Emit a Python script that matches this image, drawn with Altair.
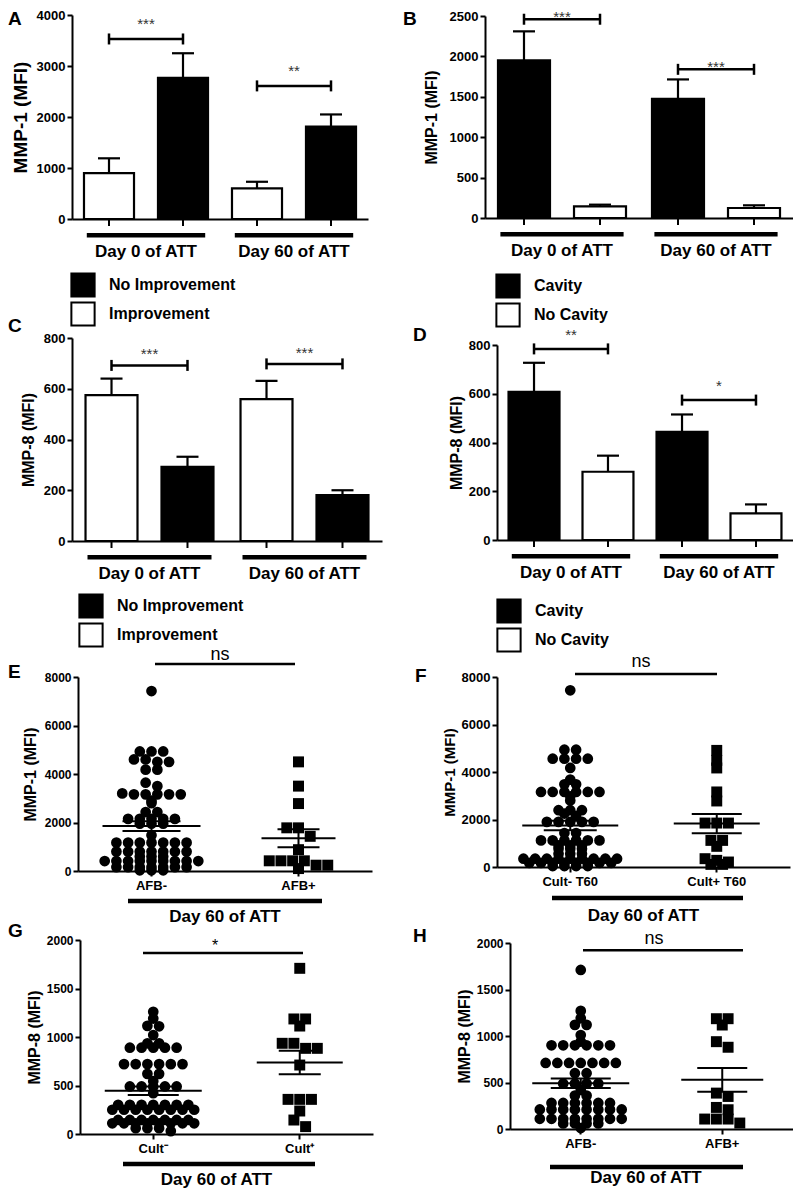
import altair as alt
import pandas as pd

FONT = "Liberation Sans"
VW, VH = 785, 1181

# ---------------- data ----------------
day_groups = ["Day 0 of ATT", "Day 60 of ATT"]

# Panel A  (MMP-1, improvement)
a_subs = ["Improvement", "No Improvement"]
a_legend = ["No Improvement", "Improvement"]
a_mean = [900, 2770, 600, 1810]
a_sem = [290, 480, 130, 240]
a_bracket = [3530, 2610]
a_stars = ["***", "**"]

# Panel B  (MMP-1, cavity)
b_subs = ["Cavity", "No Cavity"]
b_legend = ["Cavity", "No Cavity"]
b_mean = [1950, 145, 1475, 124]
b_sem = [360, 20, 240, 33]
b_bracket = [2460, 1840]
b_stars = ["***", "***"]

# Panel C  (MMP-8, improvement)
c_mean = [575, 292, 559, 181]
c_sem = [65, 40, 72, 19]
c_bracket = [692, 698]
c_stars = ["***", "***"]

# Panel D  (MMP-8, cavity)
d_mean = [608, 280, 444, 109]
d_sem = [119, 66, 71, 37]
d_bracket = [784, 574]
d_stars = ["**", "*"]

# Panel E  (MMP-1 by smear)
e_cats = ["AFB-", "AFB+"]
e_neg = [7420,
         4930, 4930, 4930,
         4600, 4600, 4500, 4500,
         4180, 4180,
         3640, 3500,
         3200, 3160, 3160, 3160, 3160, 3160,
         2900, 2800,
         2430, 2430,
         2150, 2150, 2150, 2150, 2150,
         1950, 1950, 1950,
         1470,
         1170, 1170, 1170, 1170, 1170, 1170, 1170,
         800, 800, 800, 800, 800, 800, 800,
         600, 600, 600,
         410, 410, 410, 410, 410, 410, 410, 410, 410,
         160, 160, 160, 160, 160, 160, 160,
         30, 30, 30]
e_pos = [4500, 3500, 2780, 1780, 1780, 1430, 880, 420, 420, 420, 420, 240, 240, 100]

# Panel F  (MMP-1 by culture)
f_cats = ["Cult- T60", "Cult+ T60"]
f_neg = [7440,
         4940, 4940,
         4560, 4560, 4560, 4560,
         4170,
         3680, 3480, 3480,
         3160, 3160, 3160, 3160, 3160, 3160,
         2975, 2800,
         2390, 2390, 2390, 2250, 2150,
         1900, 1900, 1900, 1900, 1900,
         1430, 1430,
         1120, 1120, 1120, 1120, 1120, 1120,
         910, 910, 910,
         770, 770, 770,
         560, 560, 560,
         350, 350, 350, 350, 350, 350, 350, 350, 350,
         170, 170, 170, 170, 170, 170, 170, 170,
         40, 40, 40, 40]
f_pos = [4910, 4490, 4170, 3160, 2780, 1850, 1850, 1850, 1120, 1120, 870, 350, 280, 210, 110, 110]

# Panel G  (MMP-8 by culture)
g_cats = ["Cult\u207b", "Cult\u207a"]
g_neg = [1260, 1190, 1115, 1110, 1020, 935, 935,
         890, 890, 890, 890, 890,
         720, 720, 720, 720, 720, 720,
         620, 620, 545,
         490, 490, 490, 490, 490, 420,
         300, 300, 300, 300, 300, 300, 300,
         250, 250, 250, 250, 250, 250, 250, 250,
         145, 145, 145, 145, 145, 145, 145,
         110, 110, 110, 110, 110, 110, 110, 110,
         60, 60, 60, 30]
g_pos = [1708, 1186, 1186, 1113, 935, 935, 883, 883, 711, 357, 357, 357, 237, 144, 76]

# Panel H  (MMP-8 by smear)
h_cats = ["AFB-", "AFB+"]
h_neg = [1710, 1270, 1190, 1120, 1120, 1010, 940,
         900, 900, 900, 900, 900, 900,
         710, 710, 710, 710, 710, 710, 710,
         600, 600,
         490, 490, 490, 490, 420, 360, 360,
         280, 280, 280, 280, 280, 280,
         210, 210, 210, 210, 210, 210, 210, 210,
         110, 110, 110, 110, 110, 110, 110, 110,
         60, 60, 60, 60, 10]
h_pos = [1186, 1186, 1118, 939, 879, 386, 350, 232, 207, 107, 107, 107, 64]


# ---------------- helpers ----------------
def letter_layer(letter, lx, ly):
    return alt.Chart(pd.DataFrame({"t": [letter]})).mark_text(
        align="left", baseline="top", fontSize=19, fontWeight="bold", color="black"
    ).encode(x=alt.value(lx), y=alt.value(ly), text="t:N")


def bar_panel(letter, subs, legend_dom, means, sems, brackets, stars, ymax, yticks,
              ytitle, x0, x1, yt, yb, pi, po, d, tsize, tpad, star_dy, lxy, legxy):
    rows = []
    k = 0
    for g in day_groups:
        for s in subs:
            rows.append({"group": g, "sub": s, "mean": means[k], "sem": sems[k]})
            k += 1
    df = pd.DataFrame(rows)
    bdf = pd.DataFrame({"group": day_groups, "yb": brackets, "star": stars})
    edf = bdf.merge(pd.DataFrame({"sub": subs}), how="cross")
    gdf = pd.DataFrame({"group": day_groups})

    xs = alt.X("group:N", sort=day_groups,
               scale=alt.Scale(range=[x0, x1], paddingInner=0, paddingOuter=0),
               axis=alt.Axis(labels=False, ticks=False, title=None, domain=True,
                             orient="bottom", offset=yb - VH))
    xo = alt.XOffset("sub:N", sort=subs,
                     scale=alt.Scale(paddingInner=pi, paddingOuter=po))
    ysc = alt.Scale(domain=[0, ymax], range=[yb, yt], nice=False)
    yax = alt.Axis(values=yticks, format="d", title=ytitle, titleFontSize=tsize,
                   labelFontSize=13, titlePadding=tpad, orient="left", offset=-x0)

    def Y(f, **kw):
        return alt.Y(f, scale=ysc, axis=yax, **kw)

    base = alt.Chart(df).transform_calculate(hi="datum.mean + datum.sem")
    bars = base.mark_bar(stroke="black", strokeWidth=2.2, opacity=1).encode(
        x=xs, xOffset=xo, y=Y("mean:Q", stack=None),
        fill=alt.Fill("sub:N", scale=alt.Scale(domain=legend_dom, range=["black", "white"]),
                      legend=alt.Legend(orient="none", legendX=legxy[0], legendY=legxy[1],
                                        title=None, direction="vertical",
                                        symbolType="square", symbolSize=540,
                                        symbolStrokeColor="black", symbolStrokeWidth=2,
                                        symbolOpacity=1,
                                        labelFontSize=16, labelFontWeight="bold",
                                        labelFont=FONT, labelColor="black",
                                        labelOffset=13, rowPadding=-3, padding=0)))
    err = base.mark_rule(strokeWidth=2.2, color="black").encode(
        x=xs, xOffset=xo, y=Y("mean:Q"), y2="hi:Q")
    cap = base.mark_tick(orient="horizontal", size=22, thickness=2.2, color="black",
                         opacity=1).encode(x=xs, xOffset=xo, y=Y("hi:Q"))
    axt = base.mark_tick(orient="vertical", size=7, thickness=2, color="black",
                         opacity=1).encode(x=xs, xOffset=xo, y=alt.value(yb + 3.5))
    bl = alt.Chart(bdf).mark_tick(orient="horizontal", size=d, thickness=2.5,
                                  color="black", opacity=1).encode(x=xs, y=Y("yb:Q"))
    be = alt.Chart(edf).mark_tick(orient="vertical", size=11, thickness=2.5,
                                  color="black", opacity=1).encode(
        x=xs, xOffset=xo, y=Y("yb:Q"))
    st = alt.Chart(bdf).mark_text(fontSize=15, dy=star_dy, color="#333333",
                                  baseline="alphabetic").encode(
        x=xs, y=Y("yb:Q"), text="star:N")
    ul = alt.Chart(gdf).mark_bar(color="black", opacity=1,
                                 width=alt.RelativeBandSize(0.8)).encode(
        x=xs, y=alt.value(yb + 14), y2=alt.value(yb + 18.5))
    gl = alt.Chart(gdf).mark_text(fontSize=17, fontWeight="bold", baseline="middle",
                                  color="black").encode(
        x=xs, y=alt.value(yb + 33), text="group:N")
    lt = letter_layer(letter, lxy[0], lxy[1])
    return alt.layer(bars, err, cap, axt, bl, be, st, ul, gl, lt)


def dot_panel(letter, cats, neg, pos, ymax, yticks, ytitle, x0, x1, yt, yb, steps, tsize,
              lsize, tpad, sig_y, sig_text, sig_size, sig_dx, ns_dx, sig_dy, sig_fs,
              ul_w, ul_dx, ul_y, lab_dx, lab_y, lxy, mean_w, sem_w):
    df = pd.DataFrame({"cat": [cats[0]] * len(neg) + [cats[1]] * len(pos),
                       "v": neg + pos})
    xs = alt.X("cat:N", sort=cats,
               scale=alt.Scale(range=[x0, x1], paddingInner=0, paddingOuter=0),
               axis=alt.Axis(title=None, labelAngle=0, labelFontSize=13, labelPadding=3,
                             tickSize=5, orient="bottom", offset=yb - VH))
    ysc = alt.Scale(domain=[0, ymax], range=[yb, yt], nice=False)
    yax = alt.Axis(values=yticks, format="d", title=ytitle, titleFontSize=tsize,
                   labelFontSize=lsize, titlePadding=tpad, orient="left", offset=-x0)

    def Y(f):
        return alt.Y(f, scale=ysc, axis=yax)

    first = "datum.cat == '%s'" % cats[0]
    half = ((x1 - x0) / 2.0) / 2.0 / 11.7
    xo = alt.XOffset("off:Q", scale=alt.Scale(domain=[-half, half]))
    base = alt.Chart(df).transform_calculate(
        row="round(datum.v / (%s ? %d : %d))" % (first, steps[0], steps[1])
    ).transform_window(
        rn="row_number()", cnt="count()", groupby=["cat", "row"], frame=[None, None]
    ).transform_calculate(off="datum.rn - 1 - (datum.cnt - 1) / 2")
    circ = base.transform_filter(alt.datum.cat == cats[0]).mark_circle(
        size=115, color="black", opacity=1).encode(x=xs, xOffset=xo, y=Y("v:Q"))
    sq = base.transform_filter(alt.datum.cat == cats[1]).mark_square(
        size=120, color="black", opacity=1).encode(x=xs, xOffset=xo, y=Y("v:Q"))
    agg = alt.Chart(df).transform_aggregate(
        m="mean(v)", se="stderr(v)", groupby=["cat"]
    ).transform_calculate(lo="datum.m - datum.se", hi="datum.m + datum.se")
    is_first = alt.datum.cat == cats[0]
    msize = alt.condition(is_first, alt.value(mean_w[0]), alt.value(mean_w[1]))
    ssize = alt.condition(is_first, alt.value(sem_w[0]), alt.value(sem_w[1]))
    mline = agg.mark_tick(orient="horizontal", thickness=2, color="black",
                          opacity=1).encode(x=xs, y=Y("m:Q"), size=msize)
    lo = agg.mark_tick(orient="horizontal", thickness=2, color="black",
                       opacity=1).encode(x=xs, y=Y("lo:Q"), size=ssize)
    hi = agg.mark_tick(orient="horizontal", thickness=2, color="black",
                       opacity=1).encode(x=xs, y=Y("hi:Q"), size=ssize)
    vr = agg.mark_rule(strokeWidth=2, color="black").encode(x=xs, y=Y("lo:Q"), y2="hi:Q")
    main = alt.layer(circ, sq, mline, lo, hi, vr)

    sdf = pd.DataFrame({"grp": ["Day 60 of ATT"], "ys": [sig_y], "t": [sig_text]})
    xg = alt.X("grp:N", axis=None,
               scale=alt.Scale(range=[x0, x1], paddingInner=0, paddingOuter=0))
    sl = alt.Chart(sdf).mark_tick(orient="horizontal", size=sig_size, thickness=2.5,
                                  color="black", opacity=1, xOffset=sig_dx).encode(
        x=xg, y=Y("ys:Q"))
    ns = alt.Chart(sdf).mark_text(fontSize=sig_fs, dy=sig_dy, dx=ns_dx,
                                  baseline="alphabetic", color="black").encode(
        x=xg, y=Y("ys:Q"), text="t:N")
    ul = alt.Chart(sdf).mark_tick(orient="horizontal", size=ul_w, thickness=4.5,
                                  color="black", opacity=1, xOffset=ul_dx).encode(
        x=xg, y=alt.value(yb + ul_y))
    lab = alt.Chart(sdf).mark_text(fontSize=17, fontWeight="bold", baseline="middle",
                                   color="black", dx=lab_dx).encode(
        x=xg, y=alt.value(yb + lab_y), text="grp:N")
    lt = letter_layer(letter, lxy[0], lxy[1])
    extra = alt.layer(sl, ns, ul, lab, lt)
    return alt.layer(main, extra).resolve_scale(x="independent")


# ---------------- panels (view coordinates) ----------------
A = bar_panel("A", a_subs, a_legend, a_mean, a_sem, a_bracket, a_stars, 4000,
              [0, 1000, 2000, 3000, 4000], "MMP-1 (MFI)", 64, 360, 7, 211,
              0.324, 0.162, 74, 19, 6, -10, (0, 2), (62, 264))
B = bar_panel("B", b_subs, b_legend, b_mean, b_sem, b_bracket, b_stars, 2500,
              [0, 500, 1000, 1500, 2000, 2500], "MMP-1 (MFI)", 477, 785, 8, 210,
              0.316, 0.171, 76, 16, 10, 3, (395, 2), (487, 265))
C = bar_panel("C", a_subs, a_legend, c_mean, c_sem, c_bracket, c_stars, 800,
              [0, 200, 400, 600, 800], "MMP-8 (MFI)", 64, 374, 330, 533,
              0.316, 0.178, 76, 16, 7, -6, (0, 309), (70, 585))
D = bar_panel("D", b_subs, b_legend, d_mean, d_sem, d_bracket, d_stars, 800,
              [0, 200, 400, 600, 800], "MMP-8 (MFI)", 489, 785, 337, 532,
              0.311, 0.156, 74, 16, 4, -9, (405, 318), (488, 590))

E = dot_panel("E", e_cats, e_neg, e_pos, 8000, [0, 2000, 4000, 6000, 8000], "MMP-1 (MFI)",
              70, 364, 669, 863, (200, 400), 16, 12, 6,
              8540, "ns", 140, 0, -5, -4, 18, 194, 0, 30, 0, 46, (0, 655),
              (98, 74), (58, 42))
F = dot_panel("F", f_cats, f_neg, f_pos, 8000, [0, 2000, 4000, 6000, 8000], "MMP-1 (MFI)",
              489, 782, 669, 859, (200, 400), 15, 13, 4,
              8126, "ns", 142, 2.5, -2.5, -7, 18, 191, 4, 31, 0, 49, (407, 659),
              (96, 86), (53, 50))
G = dot_panel("G", g_cats, g_neg, g_pos, 2000, [0, 500, 1000, 1500, 2000], "MMP-8 (MFI)",
              72, 365, 932, 1126, (50, 100), 16, 12, 4,
              1866, "*", 160, -3.5, -11.5, -2, 16, 192, -7.5, 30, -10, 46, (0, 914),
              (97, 86), (51, 42))
H = dot_panel("H", h_cats, h_neg, h_pos, 2000, [0, 500, 1000, 1500, 2000], "MMP-8 (MFI)",
              502, 785, 935, 1121, (50, 100), 16, 12, 4,
              1922, "ns", 160, 11.5, 2.5, -6, 18, 193, -5, 38, -5.5, 49, (405, 919),
              (97, 82), (60, 50))

chart = alt.layer(A, B, C, D, E, F, G, H).resolve_scale(
    x="independent", y="independent", xOffset="independent", fill="independent",
    size="independent"
).properties(
    width=VW, height=VH, padding=0, background="white"
).configure_view(
    stroke=None
).configure_axis(
    domainColor="black", domainWidth=2, tickColor="black", tickWidth=2, tickSize=5,
    labelColor="black", titleColor="black", labelFont=FONT, titleFont=FONT,
    labelFontWeight="bold", titleFontWeight="bold", grid=False, labelPadding=2
).configure_text(font=FONT)

chart.save("out.html", embed_options={"renderer": "svg", "actions": False})
